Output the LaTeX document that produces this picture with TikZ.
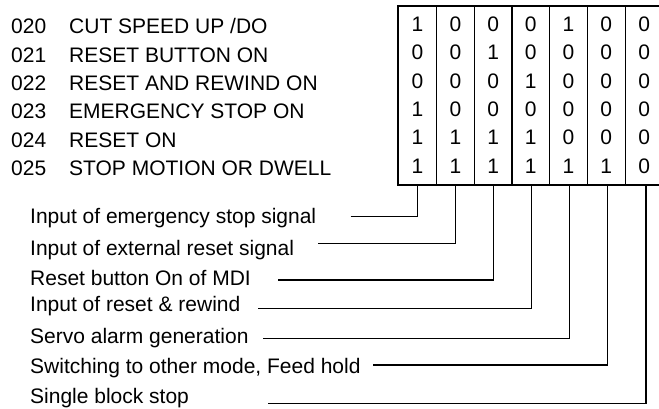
\documentclass[tikz,border=0pt]{standalone}
\usepackage{fontspec}
\setmainfont{Liberation Sans}
\begin{document}
\begin{tikzpicture}[x=1pt,y=-1pt,
  txt/.style={inner sep=0pt,anchor=base west,font=\fontsize{21}{24}\selectfont},
  bit/.style={inner sep=0pt,anchor=base,font=\fontsize{21}{24}\selectfont},
  frame/.style={line width=1.8pt},
  sep/.style={line width=1.4pt},
  leader/.style={line width=1.3pt}]
\useasboundingbox (0,0) rectangle (659,409);
\clip (0,0) rectangle (659,409);

% status codes and their meanings
\node[txt] (code0) at (11,34)      {020};
\node[txt] (code1) at (11,62.33)   {021};
\node[txt] (code2) at (11,90.66)   {022};
\node[txt] (code3) at (11,119)     {023};
\node[txt] (code4) at (11,147.33)  {024};
\node[txt] (code5) at (11,175.66)  {025};
\node[txt] (desc0) at (69,34)      {CUT SPEED UP /DO};
\node[txt] (desc1) at (69,62.33)   {RESET BUTTON ON};
\node[txt] (desc2) at (69,90.66)   {RESET AND REWIND ON};
\node[txt] (desc3) at (69,119)     {EMERGENCY STOP ON};
\node[txt] (desc4) at (69,147.33)  {RESET ON};
\node[txt] (desc5) at (69,175.66)  {STOP MOTION OR DWELL};

% bit table
\def\colx{{398,436.7,474.3,511.9,549.5,587.3,625.3,663}}
\draw[frame] (398,6) rectangle (663,185);
\foreach \k in {1,...,6}{
  \pgfmathsetmacro{\xx}{\colx[\k]}
  \draw[sep] (\xx,6) -- (\xx,185);
}
\foreach \row [count=\r from 0] in {
  {1,0,0,0,1,0,0},
  {0,0,1,0,0,0,0},
  {0,0,0,1,0,0,0},
  {1,0,0,0,0,0,0},
  {1,1,1,1,0,0,0},
  {1,1,1,1,1,1,0}}{
  \foreach \b [count=\c from 0] in \row {
    \pgfmathsetmacro{\xa}{\colx[\c]}
    \pgfmathsetmacro{\xb}{\colx[\c+1]}
    \node[bit] (b\r\c) at ({(\xa+\xb)/2},{31.7+28.3*\r}) {\b};
  }
}

% column feet where the leaders join the table
\foreach \x [count=\k] in {417.7,455.3,493.3,531.3,569.3,607.3,646}{
  \coordinate (foot\k) at (\x,185);
}

% signal labels
\node[txt] (s1) at (30,223.5) {Input of emergency stop signal};
\node[txt] (s2) at (30,255)   {Input of external reset signal};
\node[txt] (s3) at (30,285)   {Reset button On of MDI};
\node[txt] (s4) at (30,311.5) {Input of reset \& rewind};
\node[txt] (s5) at (30,343)   {Servo alarm generation};
\node[txt] (s6) at (30,373)   {Switching to other mode, Feed hold};
\node[txt] (s7) at (30,403)   {Single block stop};

% leader start points
\coordinate (l1) at (350.7,216.7);
\coordinate (l2) at (318,243.3);
\coordinate (l3) at (278,280);
\coordinate (l4) at (258,308.3);
\coordinate (l5) at (263,338.3);
\coordinate (l6) at (373,365);
\coordinate (l7) at (268,403.3);

% leaders
\foreach \k in {1,...,7}{
  \draw[leader] (l\k) -| (foot\k);
}
\end{tikzpicture}
\end{document}
